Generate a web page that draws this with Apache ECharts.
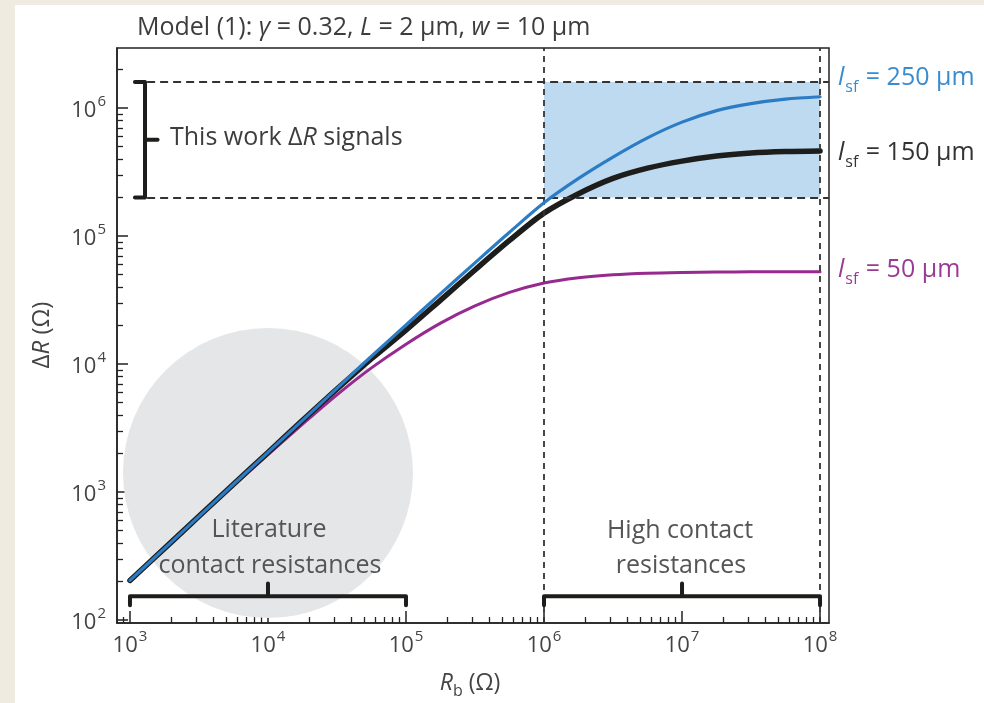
<!DOCTYPE html>
<html>
<head>
<meta charset="utf-8">
<script src="https://cdn.jsdelivr.net/npm/echarts@6/dist/echarts.min.js"></script>
<style>
  html, body { margin: 0; padding: 0; background: #fff; }
  #chart { width: 984px; height: 703px; }
</style>
</head>
<body>
<div id="chart"></div>
<script>
const rbValues = [1e3, 1.78e3, 3.16e3, 5.62e3, 1e4, 1.78e4, 3.16e4, 5.62e4, 1e5, 1.78e5, 3.16e5, 5.62e5,
                  1e6, 1.78e6, 3.16e6, 5.62e6, 1e7, 1.78e7, 3.16e7, 5.62e7, 1e8];
const dR250 = [204, 363, 646, 1150, 2040, 3630, 6460, 11500, 20200, 35500, 61700, 107000,
               182000, 282000, 414000, 585000, 776000, 955000, 1084000, 1175000, 1225000];
const dR150 = [204, 363, 646, 1150, 2040, 3630, 6380, 11000, 18400, 31600, 54300, 92300,
               151000, 214000, 282000, 339000, 385000, 422000, 445000, 457000, 462000];
const dR50  = [204, 361, 638, 1120, 1960, 3390, 5750, 9330, 14300, 20900, 28500, 36300,
               43000, 47300, 49900, 51300, 52000, 52400, 52500, 52500, 52500];

// tick decades
const xTickExps = [3, 4, 5, 6, 7, 8];
const yTickExps = [2, 3, 4, 5, 6];

// annotated ranges
const signalBand = [2e5, 1.6e6];
const literatureRange = [1e3, 1e5];
const highContactRange = [1e6, 1e8];
const literatureCircle = [1e4, 1.41e3];

const lg = Math.log10;
const xMin = 2.906, xMax = 8.065;
const yMin = 1.977, yMax = 6.469;

function minorTicks(min, max) {
  const out = [];
  for (let e = Math.floor(min); e <= Math.ceil(max); e++) {
    for (let k = 2; k <= 9; k++) {
      const v = lg(k) + e;
      if (v >= min && v <= max) out.push(v);
    }
  }
  return out;
}

function pts(ys) {
  return rbValues.map((r, i) => [lg(r), lg(ys[i])]);
}

const FONT = 'Open Sans';
const TXT = '#444';
const axisColor = '#222';

const powRich = {
  b: { fontSize: 22, fontFamily: FONT, color: TXT, lineHeight: 28, verticalAlign: 'bottom' },
  s: { fontSize: 15, fontFamily: FONT, color: TXT, lineHeight: 28, verticalAlign: 'top', padding: [0, 0, 0, 1] }
};
const powFmt = v => '{b|10}{s|' + Math.round(v) + '}';

function bottomBracket(range) {
  const x0 = lg(range[0]), x1 = lg(range[1]), xm = (x0 + x1) / 2;
  const bar = 2.185, hook = 2.115, tip = 2.285;
  return [[x0, hook], [x0, bar], [xm, bar], [xm, tip], [xm, bar], [x1, bar], [x1, hook]];
}
function sideBracket(range) {
  const y0 = lg(range[0]), y1 = lg(range[1]), ym = (y0 + y1) / 2;
  const bar = 3.109, hook = 3.036, tip = 3.2;
  return [[hook, y0], [bar, y0], [bar, ym], [tip, ym], [bar, ym], [bar, y1], [hook, y1]];
}

function bracketSeries(data) {
  return {
    type: 'line', data: data, symbol: 'none', silent: true, z: 6,
    lineStyle: { color: '#1d1d1b', width: 4, cap: 'round', join: 'round' }
  };
}

const dash = (a, b) => ({ color: '#333', width: 1.8, type: [a, b] });

function plainText(x, y, text) {
  return {
    type: 'text', x: x, y: y, z: 20,
    style: { text: text, font: '25px "Open Sans"', fill: '#555', textAlign: 'center', textVerticalAlign: 'middle' }
  };
}

function labelSf(y, val, color) {
  return {
    type: 'text', x: 838, y: y, z: 20,
    style: {
      text: '{i|l}{sub|sf}{n| = ' + val + ' µm}',
      textVerticalAlign: 'middle',
      rich: {
        i: { fontSize: 25, fontFamily: FONT, fontStyle: 'italic', fill: color, lineHeight: 34, verticalAlign: 'middle' },
        sub: { fontSize: 16, fontFamily: FONT, fill: color, lineHeight: 34, verticalAlign: 'bottom', padding: [0, 1, 0, 1] },
        n: { fontSize: 25, fontFamily: FONT, fill: color, lineHeight: 34, verticalAlign: 'middle' }
      }
    }
  };
}

const chart = echarts.init(document.getElementById('chart'));
const option = {
  backgroundColor: '#fff',
  animation: false,
  grid: { left: 117, right: 155, top: 48, bottom: 80, show: true, borderColor: axisColor, borderWidth: 1.5 },
  xAxis: [{
    type: 'value', min: xMin, max: xMax, position: 'bottom',
    axisLine: { lineStyle: { color: axisColor, width: 1.5 } },
    axisTick: { inside: true, length: 12, customValues: xTickExps, lineStyle: { color: axisColor, width: 1.5 } },
    axisLabel: { customValues: xTickExps, formatter: powFmt, rich: powRich, margin: 6 },
    splitLine: { show: false }
  }, {
    type: 'value', min: xMin, max: xMax, position: 'bottom',
    axisLine: { show: false },
    axisTick: { inside: true, length: 6, customValues: minorTicks(xMin, xMax), lineStyle: { color: axisColor, width: 1.3 } },
    axisLabel: { show: false },
    splitLine: { show: false }
  }],
  yAxis: [{
    type: 'value', min: yMin, max: yMax, position: 'left',
    axisLine: { lineStyle: { color: axisColor, width: 1.5 } },
    axisTick: { inside: true, length: 11, customValues: yTickExps, lineStyle: { color: axisColor, width: 1.5 } },
    axisLabel: { customValues: yTickExps, formatter: powFmt, rich: powRich, margin: 11 },
    splitLine: { show: false }
  }, {
    type: 'value', min: yMin, max: yMax, position: 'left',
    axisLine: { show: false },
    axisTick: { inside: true, length: 6, customValues: minorTicks(yMin, yMax), lineStyle: { color: axisColor, width: 1.3 } },
    axisLabel: { show: false },
    splitLine: { show: false }
  }],
  series: [
    {
      type: 'scatter', silent: true, z: 1,
      data: [[lg(literatureCircle[0]), lg(literatureCircle[1])]],
      symbol: 'circle', symbolSize: 290,
      itemStyle: { color: '#e5e6e8', opacity: 1 },
      markArea: {
        silent: true,
        itemStyle: { color: '#bddaf0' },
        data: [[{ coord: [lg(highContactRange[0]), lg(signalBand[0])] }, { coord: [lg(highContactRange[1]), lg(signalBand[1])] }]]
      }
    },
    {
      type: 'line', data: pts(dR50), symbol: 'none', smooth: 0.3, z: 3,
      lineStyle: { color: '#962a8f', width: 3, cap: 'round' }
    },
    {
      type: 'line', data: pts(dR150), symbol: 'none', smooth: 0.3, z: 4,
      lineStyle: { color: '#1d1d1b', width: 5.5, cap: 'round' }
    },
    {
      type: 'line', data: pts(dR250), symbol: 'none', smooth: 0.3, z: 5,
      lineStyle: { color: '#2b7cc4', width: 3.2, cap: 'round' }
    },
    Object.assign(bracketSeries(sideBracket(signalBand)), {
      markLine: {
        silent: true, symbol: ['none', 'none'], label: { show: false },
        data: [
          [{ coord: [3.03, lg(signalBand[0])], lineStyle: dash(8, 5) }, { coord: [xMax, lg(signalBand[0])] }],
          [{ coord: [3.03, lg(signalBand[1])], lineStyle: dash(8, 5) }, { coord: [xMax, lg(signalBand[1])] }],
          [{ coord: [lg(highContactRange[0]), yMin], lineStyle: dash(6, 5) }, { coord: [lg(highContactRange[0]), yMax] }],
          [{ coord: [lg(highContactRange[1]), yMin], lineStyle: dash(6, 5) }, { coord: [lg(highContactRange[1]), yMax] }]
        ]
      }
    }),
    bracketSeries(bottomBracket(literatureRange)),
    bracketSeries(bottomBracket(highContactRange))
  ],
  graphic: [
    { type: 'rect', shape: { x: 0, y: 0, width: 15, height: 703 }, style: { fill: '#efebe1' }, silent: true },
    { type: 'rect', shape: { x: 0, y: 0, width: 984, height: 5 }, style: { fill: '#efebe1' }, silent: true },
    {
      type: 'text', x: 137, y: 28, z: 20,
      style: {
        text: '{n|Model (1): }{i|γ}{n| = 0.32, }{i|L}{n| = 2 µm, }{i|w}{n| = 10 µm}',
        textVerticalAlign: 'middle',
        rich: {
          n: { fontSize: 25, fontFamily: FONT, fill: '#3d3d3d' },
          i: { fontSize: 25, fontFamily: FONT, fontStyle: 'italic', fill: '#3d3d3d' }
        }
      }
    },
    {
      type: 'text', x: 170, y: 138, z: 20,
      style: {
        text: '{n|This work Δ}{i|R}{n| signals}',
        textVerticalAlign: 'middle',
        rich: {
          n: { fontSize: 25, fontFamily: FONT, fill: '#3d3d3d' },
          i: { fontSize: 25, fontFamily: FONT, fontStyle: 'italic', fill: '#3d3d3d' }
        }
      }
    },
    plainText(269, 530, 'Literature'),
    plainText(270, 566, 'contact resistances'),
    plainText(680, 531, 'High contact'),
    plainText(681, 566, 'resistances'),
    labelSf(78, '250', '#3a8ccf'),
    labelSf(153, '150', '#333'),
    labelSf(270, '50', '#9a3a94'),
    {
      type: 'text', x: 42, y: 335, rotation: Math.PI / 2, z: 20,
      style: {
        text: '{n|Δ}{i|R}{n| (Ω)}',
        textAlign: 'center', textVerticalAlign: 'middle',
        rich: {
          n: { fontSize: 24, fontFamily: FONT, fill: '#444' },
          i: { fontSize: 24, fontFamily: FONT, fontStyle: 'italic', fill: '#444' }
        }
      }
    },
    {
      type: 'text', x: 470, y: 683, z: 20,
      style: {
        text: '{i|R}{sub|b}{n| (Ω)}',
        textAlign: 'center', textVerticalAlign: 'middle',
        rich: {
          n: { fontSize: 23, fontFamily: FONT, fill: '#444', lineHeight: 32, verticalAlign: 'middle' },
          i: { fontSize: 23, fontFamily: FONT, fontStyle: 'italic', fill: '#444', lineHeight: 32, verticalAlign: 'middle' },
          sub: { fontSize: 16, fontFamily: FONT, fill: '#444', lineHeight: 32, verticalAlign: 'bottom' }
        }
      }
    }
  ]
};

chart.setOption(option);
</script>
</body>
</html>
